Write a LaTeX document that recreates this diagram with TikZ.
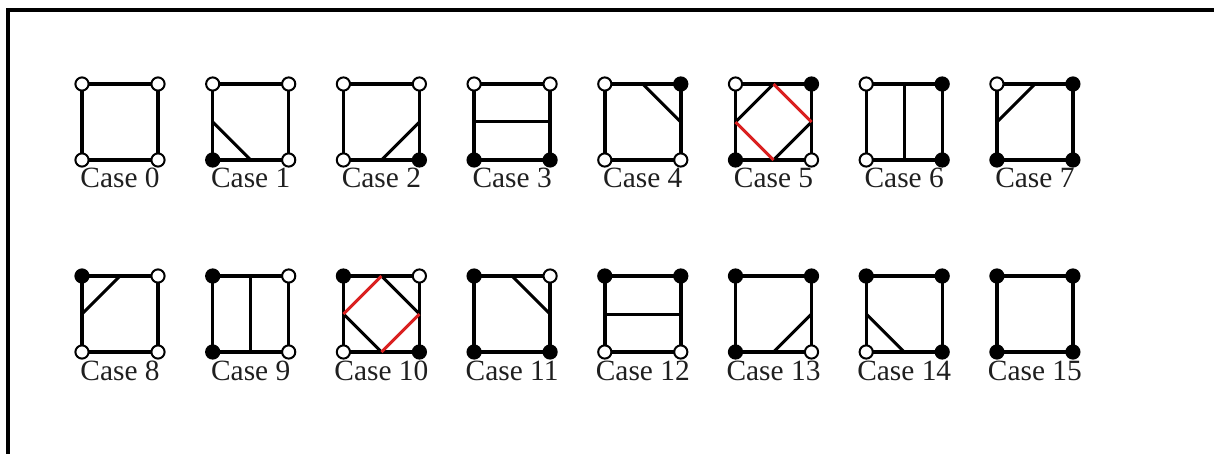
\documentclass[tikz,border=0pt]{standalone}
\usepackage{fontspec}
\setmainfont{Liberation Serif}
\definecolor{cutred}{RGB}{218,32,32}

\begin{document}
\begin{tikzpicture}[
    x=0.5pt, y=-0.5pt,
    edge/.style={line width=1.7pt, line join=round},
    cut/.style={line width=1.5pt},
    redcut/.style={cut, draw=cutred},
    v0/.style={circle, draw, fill=white, line width=1pt, minimum size=6.6pt, inner sep=0pt},
    v1/.style={circle, draw, fill=black, line width=1pt, minimum size=6.6pt, inner sep=0pt},
    lbl/.style={font=\fontsize{14.7}{16}\selectfont, text=black!88, inner sep=0pt, anchor=base}
  ]
    \useasboundingbox (0,0) rectangle (1214,454);
    % frame, cut off at the right and bottom
    \draw[line width=1.6pt] (8,454) -- (8,10) -- (1214,10);

    % the 16 cells: corners, edge midpoints, square, vertex states, label
    \foreach \n in {0,...,15} {
      \pgfmathtruncatemacro\col{mod(\n,8)}
      \pgfmathtruncatemacro\row{floor(\n/8)}
      \pgfmathsetmacro\x{82+130.7*\col}
      \pgfmathsetmacro\y{84+192*\row}
      \pgfmathtruncatemacro\bl{mod(\n,2)}
      \pgfmathtruncatemacro\br{mod(floor(\n/2),2)}
      \pgfmathtruncatemacro\tr{mod(floor(\n/4),2)}
      \pgfmathtruncatemacro\tl{mod(floor(\n/8),2)}
      \coordinate (p\n-tl) at (\x,\y);
      \coordinate (p\n-tr) at (\x+76,\y);
      \coordinate (p\n-br) at (\x+76,\y+76);
      \coordinate (p\n-bl) at (\x,\y+76);
      \coordinate (m\n-t) at (\x+38,\y);
      \coordinate (m\n-b) at (\x+38,\y+76);
      \coordinate (m\n-l) at (\x,\y+38);
      \coordinate (m\n-r) at (\x+76,\y+38);
      \draw[edge] (p\n-tl) -- (p\n-tr) -- (p\n-br) -- (p\n-bl) -- cycle;
      \node[v\tl] (c\n-tl) at (p\n-tl) {};
      \node[v\tr] (c\n-tr) at (p\n-tr) {};
      \node[v\br] (c\n-br) at (p\n-br) {};
      \node[v\bl] (c\n-bl) at (p\n-bl) {};
      \node[lbl] (lab\n) at (\x+38,\y+104) {Case \n};
    }

    % contour segments
    \draw[cut] (m1-l) -- (m1-b);
    \draw[cut] (m2-b) -- (m2-r);
    \draw[cut] (m3-l) -- (m3-r);
    \draw[cut] (m4-t) -- (m4-r);
    \draw[cut] (m5-l) -- (m5-t);
    \draw[cut] (m5-b) -- (m5-r);
    \draw[redcut] (m5-l) -- (m5-b);
    \draw[redcut] (m5-t) -- (m5-r);
    \draw[cut] (m6-t) -- (m6-b);
    \draw[cut] (m7-l) -- (m7-t);
    \draw[cut] (m8-l) -- (m8-t);
    \draw[cut] (m9-t) -- (m9-b);
    \draw[cut] (m10-t) -- (m10-r);
    \draw[cut] (m10-l) -- (m10-b);
    \draw[redcut] (m10-l) -- (m10-t);
    \draw[redcut] (m10-b) -- (m10-r);
    \draw[cut] (m11-t) -- (m11-r);
    \draw[cut] (m12-l) -- (m12-r);
    \draw[cut] (m13-b) -- (m13-r);
    \draw[cut] (m14-l) -- (m14-b);
  \end{tikzpicture}
\end{document}
